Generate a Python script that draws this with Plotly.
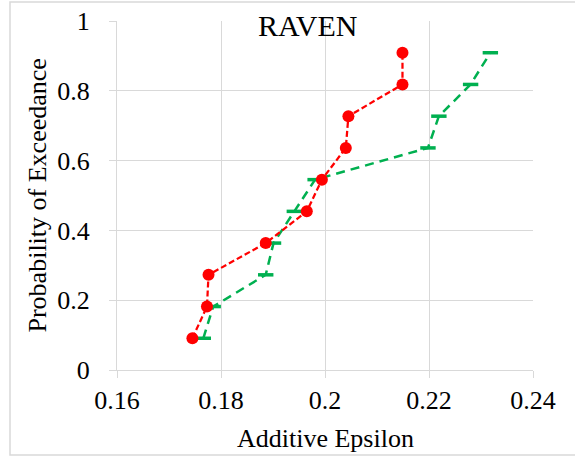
import plotly.graph_objects as go

# Exceedance probabilities (k/11) and additive-epsilon values per series
prob = [1/11, 2/11, 3/11, 4/11, 5/11, 6/11, 7/11, 8/11, 9/11, 10/11]
eps_red = [0.1745, 0.1773, 0.1776, 0.1886, 0.1965, 0.1994, 0.2040, 0.2045, 0.2149, 0.2149]
eps_green = [0.1766, 0.1785, 0.1886, 0.1901, 0.1941, 0.1981, 0.2198, 0.2219, 0.2280, 0.2318]

x_ticks = [0.16, 0.18, 0.2, 0.22, 0.24]
x_ticklabels = ["0.16", "0.18", "0.2", "0.22", "0.24"]
y_ticks = [0, 0.2, 0.4, 0.6, 0.8, 1.0]
y_ticklabels = ["0", "0.2", "0.4", "0.6", "0.8", "1"]

W, H = 575, 457
ML, MR, MT, MB = 117, 42, 21, 87
PW, PH = W - ML - MR, H - MT - MB

FONT = "Liberation Serif, Times New Roman, serif"
GRID = "#D9D9D9"
GREEN = "#00B050"
RED = "#FF0000"


def px_x(p):
    return (p - ML) / PW


def px_y(p):
    return (H - MB - p) / PH


fig = go.Figure()

fig.add_trace(go.Scatter(
    x=eps_green, y=prob, mode="lines+markers",
    line=dict(color=GREEN, width=2.5, dash="9px,6px"),
    marker=dict(symbol="line-ew", size=11, color=GREEN,
                line=dict(color=GREEN, width=3.5)),
    showlegend=False,
))
fig.add_trace(go.Scatter(
    x=eps_red, y=prob, mode="lines+markers",
    line=dict(color=RED, width=2.25, dash="6px,3px"),
    marker=dict(symbol="circle", size=12, color=RED),
    showlegend=False,
))

axis_common = dict(
    showgrid=True, gridcolor=GRID, gridwidth=1.3,
    showline=True, linecolor=GRID, linewidth=1.3,
    ticks="outside", ticklen=7, tickcolor=GRID, tickwidth=1.3,
    tickfont=dict(family=FONT, size=26, color="black"),
    zeroline=False, fixedrange=True,
)

fig.update_layout(
    width=W, height=H,
    margin=dict(l=ML, r=MR, t=MT, b=MB, autoexpand=False),
    paper_bgcolor="white", plot_bgcolor="white",
    xaxis=dict(range=[0.16, 0.24], tickvals=x_ticks, ticktext=x_ticklabels,
               ticklabelstandoff=0, **axis_common),
    yaxis=dict(range=[0, 1], tickvals=y_ticks, ticktext=y_ticklabels,
               ticklabelstandoff=14, **axis_common),
    shapes=[
        # chart-area border
        dict(type="rect", xref="paper", yref="paper",
             x0=px_x(10), x1=px_x(577), y0=px_y(455), y1=px_y(2),
             line=dict(color=GRID, width=1.5), fillcolor="rgba(0,0,0,0)",
             layer="below"),
        # white backing behind the title inside the plot area
        dict(type="rect", xref="paper", yref="paper",
             x0=px_x(246), x1=px_x(368), y0=px_y(47), y1=1.0,
             line=dict(width=0), fillcolor="white", layer="between"),
    ],
    annotations=[
        dict(text="RAVEN", xref="paper", yref="paper",
             x=px_x(307), y=px_y(26), xanchor="center", yanchor="middle",
             showarrow=False, font=dict(family=FONT, size=30, color="black")),
        dict(text="Additive Epsilon", xref="paper", yref="paper",
             x=0.5, y=px_y(438), xanchor="center", yanchor="middle",
             showarrow=False, font=dict(family=FONT, size=26, color="black")),
        dict(text="Probability of Exceedance", xref="paper", yref="paper",
             x=px_x(37), y=0.5, xanchor="center", yanchor="middle",
             textangle=-90, showarrow=False,
             font=dict(family=FONT, size=26, color="black")),
    ],
)

fig.write_html("out.html")
